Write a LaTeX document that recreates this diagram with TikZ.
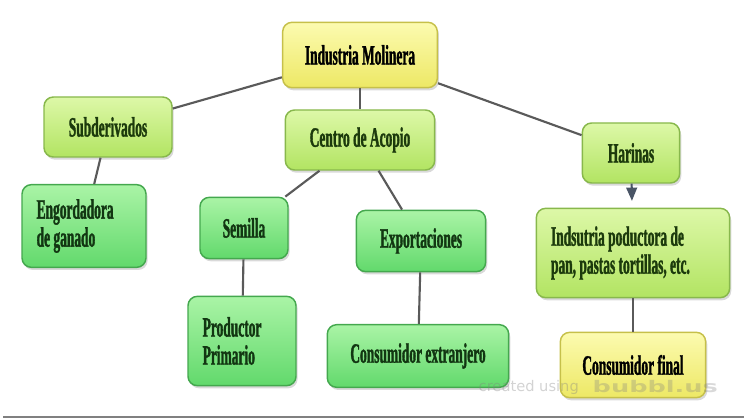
\documentclass[tikz,border=0pt]{standalone}
\usepackage{fontspec}
\setmainfont{Liberation Serif}[FakeStretch=0.48, BoldFeatures={FakeBold=1.2}]
\newfontfamily\wmfont{DejaVu Sans}
\newfontfamily\wmwidefont{DejaVu Sans}[FakeStretch=1.6]
\usetikzlibrary{arrows.meta}
\usetikzlibrary{shadows}

\definecolor{molineratop}{HTML}{FCFBB0}
\definecolor{molinerabottom}{HTML}{EDE865}
\definecolor{molineraborder}{HTML}{C6C04A}
\definecolor{limetop}{HTML}{DDF8A8}
\definecolor{limebottom}{HTML}{B2E462}
\definecolor{limeborder}{HTML}{88B84C}
\definecolor{limetext}{HTML}{1C3A0C}
\definecolor{greentop}{HTML}{AAF4A6}
\definecolor{greenbottom}{HTML}{62D96C}
\definecolor{greenborder}{HTML}{44A84E}
\definecolor{greentext}{HTML}{123612}
\definecolor{linkgray}{HTML}{5A5A5A}
\definecolor{arrowslate}{HTML}{4A5566}

\begin{document}
\begin{tikzpicture}[x=0.75pt, y=-0.75pt,
    every node/.style={font=\bfseries\fontsize{21}{21}\selectfont},
    box/.style={draw, line width=1.1pt, rounded corners=7pt, inner xsep=11pt, align=flush left,
        drop shadow={shadow xshift=1.2pt, shadow yshift=-2pt, opacity=.3}},
    yellowbox/.style={box, draw=molineraborder, top color=molineratop, bottom color=molinerabottom, text=black},
    limebox/.style={box, draw=limeborder, top color=limetop, bottom color=limebottom, text=limetext},
    greenbox/.style={box, draw=greenborder, top color=greentop, bottom color=greenbottom, text=greentext},
    link/.style={draw=linkgray, line width=1.6pt}]
    \useasboundingbox (0,0) rectangle (744,420);
    \draw[gray, line width=1pt] (3,417) -- (744,417);

    \node[yellowbox, minimum width=116pt, minimum height=49pt] (molinera) at (360,55) {Industria Molinera};
    \node[limebox, minimum width=96pt, minimum height=45pt] (subderivados) at (108,127) {Subderivados};
    \node[greenbox, text width=71pt, minimum height=62pt] (engorda) at (84,226) {Engordadora\\de ganado};
    \node[limebox, minimum width=112pt, minimum height=45pt] (acopio) at (360,140) {Centro de Acopio};
    \node[greenbox, minimum width=66pt, minimum height=46pt] (semilla) at (244,228) {Semilla};
    \node[greenbox, minimum width=97pt, minimum height=46pt] (exporta) at (421,241) {Exportaciones};
    \node[greenbox, text width=59pt, minimum height=67pt] (productor) at (242,341) {Productor\\Primario};
    \node[greenbox, minimum width=136pt, minimum height=47pt] (extranjero) at (418,356) {Consumidor extranjero};
    \node[limebox, minimum width=73pt, minimum height=45pt] (harinas) at (631,153) {Harinas};
    \node[limebox, text width=123pt, minimum height=67pt] (panes) at (633,253) {Indsutria poductora de\\pan, pastas tortillas, etc.};
    \node[yellowbox, minimum width=109pt, minimum height=49pt] (final) at (633,365) {Consumidor final};

    \draw[link] (molinera) -- (subderivados);
    \draw[link] (molinera) -- (acopio);
    \draw[link] (molinera) -- (harinas);
    \draw[link] (subderivados) -- (engorda);
    \draw[link] (acopio) -- (semilla);
    \draw[link] (acopio) -- (exporta);
    \draw[link] (semilla) -- (productor);
    \draw[link] (exporta) -- (extranjero);
    \draw[link, draw=arrowslate, -{Triangle[length=10pt, width=8pt]}, shorten >=5pt] (harinas) -- (panes);
    \draw[link] (panes) -- (final);

    \node[font=\wmfont\fontsize{11}{13}\selectfont, text=gray, text opacity=.35, anchor=west] (credit) at (474,387) {created using};
    \node[font=\wmwidefont\bfseries\fontsize{12}{14}\selectfont, text=gray, text opacity=.3, anchor=west] (bubbl) at (588,387) {bubbl.us};
\end{tikzpicture}
\end{document}
